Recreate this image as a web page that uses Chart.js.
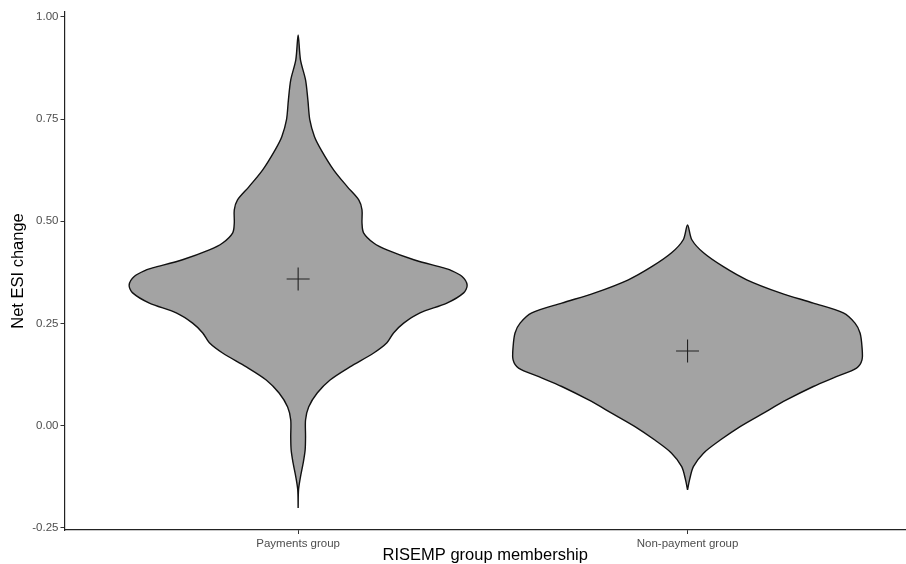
<!DOCTYPE html>
<html>
<head>
<meta charset="utf-8">
<script src="https://cdn.jsdelivr.net/npm/chart.js@4/dist/chart.umd.min.js"></script>
<style>
  html, body { margin: 0; padding: 0; background: #ffffff; overflow: hidden; }
  canvas { display: block; }
</style>
</head>
<body>
<canvas id="chart" width="906" height="564"></canvas>
<script>
// Groups on the x axis
const groups = ['Payments group', 'Non-payment group'];

// Violin outlines: Net ESI change levels (top to bottom) and half-widths in group units
const paymentsY = [0.956, 0.895, 0.846, 0.797, 0.748, 0.707, 0.675, 0.626, 0.585, 0.552, 0.528, 0.496, 0.472,
  0.447, 0.430, 0.406, 0.386, 0.381, 0.365, 0.344, 0.325, 0.300, 0.276, 0.251, 0.227, 0.203, 0.178, 0.144,
  0.112, 0.080, 0.046, 0.014, -0.027, -0.059, -0.091, -0.125, -0.157, -0.201];
const paymentsW = [0, 0.006, 0.019, 0.025, 0.030, 0.042, 0.059, 0.091, 0.126, 0.156, 0.164, 0.164, 0.168,
  0.194, 0.228, 0.297, 0.374, 0.390, 0.421, 0.434, 0.425, 0.382, 0.313, 0.271, 0.245, 0.228, 0.194, 0.133,
  0.082, 0.049, 0.027, 0.019, 0.019, 0.018, 0.013, 0.006, 0.001, 0];

const nonPaymentY = [0.491, 0.455, 0.423, 0.389, 0.357, 0.325, 0.300, 0.276, 0.251, 0.227, 0.193, 0.161,
  0.141, 0.120, 0.096, 0.063, 0.031, -0.002, -0.035, -0.067, -0.100, -0.133, -0.157];
const nonPaymentW = [0, 0.011, 0.041, 0.092, 0.152, 0.238, 0.323, 0.400, 0.430, 0.443, 0.448, 0.448,
  0.434, 0.382, 0.323, 0.254, 0.195, 0.135, 0.084, 0.041, 0.015, 0.005, 0];

// Group means (marked with a cross)
const groupMeans = [0.359, 0.183];

// Y axis tick values
const yTicks = [-0.25, 0, 0.25, 0.5, 0.75, 1.0];

// Closed outline: right edge from bottom to top, then left edge back down
function outline(center, ys, ws) {
  const pts = [];
  for (let i = ys.length - 1; i >= 0; i--) pts.push({ x: center + ws[i], y: ys[i] });
  for (let i = 1; i < ys.length; i++) pts.push({ x: center - ws[i], y: ys[i] });
  return pts;
}

function violinDataset(points) {
  return {
    type: 'scatter',
    data: points,
    showLine: true,
    fill: 'shape',
    backgroundColor: '#a3a3a3',
    borderColor: '#111111',
    borderWidth: 1.4,
    tension: 0.3,
    pointRadius: 0,
    pointHoverRadius: 0,
    order: 2
  };
}

const FONT = '"Liberation Sans", Arial, Helvetica, sans-serif';

new Chart(document.getElementById('chart'), {
  type: 'scatter',
  data: {
    datasets: [
      violinDataset(outline(1, paymentsY, paymentsW)),
      violinDataset(outline(2, nonPaymentY, nonPaymentW)),
      {
        type: 'scatter',
        data: groupMeans.map((m, i) => ({ x: i + 1, y: m })),
        pointStyle: 'cross',
        pointRadius: 11.5,
        pointBorderColor: '#222222',
        pointBorderWidth: 1.1,
        borderColor: '#222222',
        showLine: false,
        order: 1
      }
    ]
  },
  options: {
    responsive: false,
    animation: false,
    devicePixelRatio: 1,
    layout: { autoPadding: false, padding: { top: 12, right: 0, bottom: 0, left: 0 } },
    plugins: { legend: { display: false }, tooltip: { enabled: false } },
    scales: {
      x: {
        type: 'linear',
        min: 0.4,
        max: 2.561,
        afterBuildTicks: (s) => { s.ticks = groups.map((g, i) => ({ value: i + 1 })); },
        afterFit: (s) => { s.height = 34; },
        ticks: {
          callback: (v) => groups[Math.round(v) - 1] || '',
          color: '#4d4d4d',
          font: { family: FONT, size: 11.5 },
          padding: 3,
          maxRotation: 0,
          autoSkip: false
        },
        grid: { display: true, drawOnChartArea: false, drawTicks: true, tickLength: 4, color: '#333333', lineWidth: 1 },
        border: { display: true, color: '#222222', width: 1.2 },
        title: {
          display: true,
          text: 'RISEMP group membership',
          color: '#000000',
          font: { family: FONT, size: 16.5 },
          padding: { top: 0, bottom: -1 }
        }
      },
      y: {
        type: 'linear',
        min: -0.255,
        max: 1.012,
        afterBuildTicks: (s) => { s.ticks = yTicks.map(v => ({ value: v })); },
        afterFit: (s) => { s.width = 64.5; },
        ticks: {
          callback: (v) => Number(v).toFixed(2),
          color: '#4d4d4d',
          font: { family: FONT, size: 11.5 },
          padding: 2
        },
        grid: { display: true, drawOnChartArea: false, drawTicks: true, tickLength: 4, color: '#333333', lineWidth: 1 },
        border: { display: true, color: '#222222', width: 1.2 },
        title: {
          display: true,
          text: 'Net ESI change',
          color: '#000000',
          font: { family: FONT, size: 16.5 },
          padding: { top: 9, bottom: 0 }
        }
      }
    }
  }
});
</script>
</body>
</html>
